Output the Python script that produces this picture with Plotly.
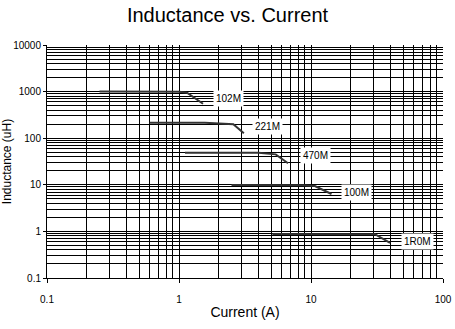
import math
import plotly.graph_objects as go

# Current (A) and inductance (uH) for each part
part_names = ["102M", "221M", "470M", "100M", "1R0M"]
current_102M = [0.25, 1.0, 1.15, 1.52]
induct_102M = [1000, 990, 950, 550]
current_221M = [0.6, 1.57, 2.58, 3.1]
induct_221M = [215, 214, 200, 127]
current_470M = [1.11, 4.0, 5.4, 6.7]
induct_470M = [49, 48.5, 45, 29]
current_100M = [2.5, 8.7, 10.7, 14.3]
induct_100M = [9.9, 9.8, 9.4, 6.35]
current_1R0M = [5.1, 20.0, 30.5, 39.7]
induct_1R0M = [0.88, 0.88, 0.87, 0.57]
# label anchor positions (current, inductance)
label_x = [1.82, 3.55, 8.3, 16.8, 48]
label_y = [720, 175, 43, 6.9, 0.6]

xs = [current_102M, current_221M, current_470M, current_100M, current_1R0M]
ys = [induct_102M, induct_221M, induct_470M, induct_100M, induct_1R0M]

fig = go.Figure()
for name, x, y in zip(part_names, xs, ys):
    fig.add_trace(go.Scatter(x=x, y=y, mode="lines", name=name,
                             line=dict(color="#333333", width=2), showlegend=False))

for name, lx, ly in zip(part_names, label_x, label_y):
    fig.add_annotation(x=math.log10(lx), y=math.log10(ly), xref="x", yref="y",
                       text=name, showarrow=False,
                       xanchor="left", bgcolor="white", borderpad=2,
                       font=dict(size=10, color="black"))

font_family = "Arial, Liberation Sans, sans-serif"
fig.update_layout(
    width=455, height=329,
    margin=dict(l=47, r=12, t=45, b=51),
    paper_bgcolor="white", plot_bgcolor="white",
    font=dict(family=font_family, color="black", size=11),
    title=dict(text="Inductance vs. Current", x=0.5, xanchor="center",
               y=0.955, yanchor="middle", font=dict(size=20, color="black")),
)
fig.update_xaxes(type="log", range=[-1, 2], tickvals=[0.1, 1, 10, 100],
                 ticktext=["0.1", "1", "10", "100"], automargin=False,
                 showgrid=True, gridcolor="black", gridwidth=1,
                 minor=dict(dtick="D1", showgrid=True, gridcolor="black", gridwidth=1),
                 showline=True, linecolor="black", linewidth=1,
                 ticks="outside", ticklen=4, tickcolor="black",
                 ticklabelstandoff=8, tickfont=dict(size=10),
                 title=dict(text="Current (A)", font=dict(size=14), standoff=3),
                 zeroline=False)
fig.update_yaxes(type="log", range=[-1, 4], tickvals=[0.1, 1, 10, 100, 1000, 10000],
                 ticktext=["0.1", "1", "10", "100", "1000", "10000"], automargin=False,
                 showgrid=True, gridcolor="black", gridwidth=1,
                 minor=dict(dtick="D1", showgrid=True, gridcolor="black", gridwidth=1),
                 showline=True, linecolor="black", linewidth=1,
                 ticks="outside", ticklen=3, tickcolor="black",
                 tickfont=dict(size=10),
                 title=dict(text="Inductance (uH)", font=dict(size=12), standoff=0),
                 zeroline=False)

fig.write_html("out.html")
